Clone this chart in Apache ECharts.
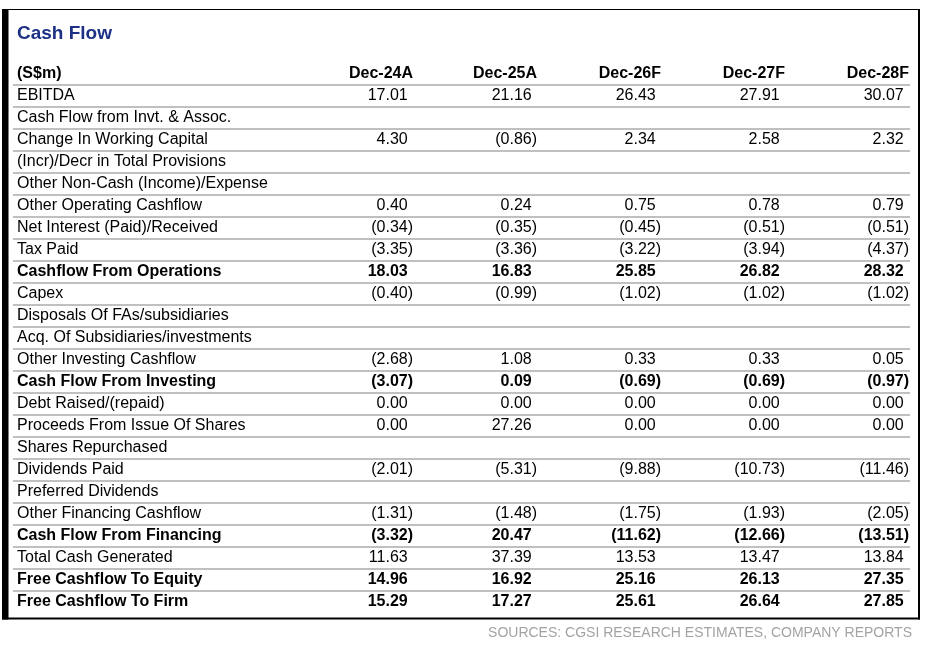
<!DOCTYPE html>
<html><head><meta charset="utf-8">
<script src="https://cdn.jsdelivr.net/npm/echarts@6/dist/echarts.min.js"></script>
<style>html,body{margin:0;padding:0;background:#fff}#c{width:926px;height:647px}</style>
</head><body><div id="c"></div>
<script>
const titleText = 'Cash Flow';
const sourceText = 'SOURCES: CGSI RESEARCH ESTIMATES, COMPANY REPORTS';
const unitLabel = '(S$m)';
const periods = ['Dec-24A', 'Dec-25A', 'Dec-26F', 'Dec-27F', 'Dec-28F'];
const rowLabels = [
  'EBITDA',
  'Cash Flow from Invt. & Assoc.',
  'Change In Working Capital',
  '(Incr)/Decr in Total Provisions',
  'Other Non-Cash (Income)/Expense',
  'Other Operating Cashflow',
  'Net Interest (Paid)/Received',
  'Tax Paid',
  'Cashflow From Operations',
  'Capex',
  'Disposals Of FAs/subsidiaries',
  'Acq. Of Subsidiaries/investments',
  'Other Investing Cashflow',
  'Cash Flow From Investing',
  'Debt Raised/(repaid)',
  'Proceeds From Issue Of Shares',
  'Shares Repurchased',
  'Dividends Paid',
  'Preferred Dividends',
  'Other Financing Cashflow',
  'Cash Flow From Financing',
  'Total Cash Generated',
  'Free Cashflow To Equity',
  'Free Cashflow To Firm'
];
const boldRows = ['Cashflow From Operations', 'Cash Flow From Investing', 'Cash Flow From Financing', 'Free Cashflow To Equity', 'Free Cashflow To Firm'];
const dec24A = [17.01, null, 4.30, null, null, 0.40, -0.34, -3.35, 18.03, -0.40, null, null, -2.68, -3.07, 0.00, 0.00, null, -2.01, null, -1.31, -3.32, 11.63, 14.96, 15.29];
const dec25A = [21.16, null, -0.86, null, null, 0.24, -0.35, -3.36, 16.83, -0.99, null, null, 1.08, 0.09, 0.00, 27.26, null, -5.31, null, -1.48, 20.47, 37.39, 16.92, 17.27];
const dec26F = [26.43, null, 2.34, null, null, 0.75, -0.45, -3.22, 25.85, -1.02, null, null, 0.33, -0.69, 0.00, 0.00, null, -9.88, null, -1.75, -11.62, 13.53, 25.16, 25.61];
const dec27F = [27.91, null, 2.58, null, null, 0.78, -0.51, -3.94, 26.82, -1.02, null, null, 0.33, -0.69, 0.00, 0.00, null, -10.73, null, -1.93, -12.66, 13.47, 26.13, 26.64];
const dec28F = [30.07, null, 2.32, null, null, 0.79, -0.51, -4.37, 28.32, -1.02, null, null, 0.05, -0.97, 0.00, 0.00, null, -11.46, null, -2.05, -13.51, 13.84, 27.35, 27.85];
const columns = [dec24A, dec25A, dec26F, dec27F, dec28F];

const FONT = "'Liberation Sans', Arial, Helvetica, sans-serif";
const FS = 16;
const X_MIN = -2.2258, X_MAX = 5.008, LABEL_X = -2.1935;

function fmt(v) {
  if (v === null || v === undefined) return '';
  return v < 0 ? '(' + Math.abs(v).toFixed(2) + ')' : v.toFixed(2);
}

const yCats = [unitLabel].concat(rowLabels);
const cells = [];
cells.push({ value: [LABEL_X, 0], text: unitLabel, bold: true, align: 'left', paren: false });
periods.forEach((p, j) => cells.push({ value: [j + 1, 0], text: p, bold: true, align: 'right', paren: true }));
rowLabels.forEach((lab, i) => {
  const r = i + 1;
  const bold = boldRows.indexOf(lab) >= 0;
  cells.push({ value: [LABEL_X, r], text: lab, bold: bold, align: 'left', paren: false });
  columns.forEach((col, j) => {
    const t = fmt(col[i]);
    if (t) cells.push({ value: [j + 1, r], text: t, bold: bold, align: 'right', paren: t.charAt(t.length - 1) === ')' });
  });
});
const separators = [];
for (let k = 0; k < yCats.length - 1; k++) separators.push([0, k]);

const chart = echarts.init(document.getElementById('c'), null, { renderer: 'canvas' });
chart.setOption({
  animation: false,
  backgroundColor: '#ffffff',
  title: [
    { text: titleText, left: 17, top: 24, padding: 0, textStyle: { fontFamily: FONT, fontSize: 19, fontWeight: 'bold', color: '#1c3185' } },
    { text: sourceText, right: 14, top: 626, padding: 0, textStyle: { fontFamily: FONT, fontSize: 14, fontWeight: 'normal', color: '#a3a3a3' } }
  ],
  grid: { left: 13, right: 16, top: 62, height: 550 },
  xAxis: { type: 'value', min: X_MIN, max: X_MAX, show: false },
  yAxis: { type: 'category', data: yCats, inverse: true, show: false },
  graphic: [
    { type: 'rect', silent: true, shape: { x: 2, y: 9, width: 6.5, height: 610.5 }, style: { fill: '#000' } },
    { type: 'line', silent: true, shape: { x1: 2, y1: 9.5, x2: 920, y2: 9.5 }, style: { stroke: '#000', lineWidth: 1 } },
    { type: 'line', silent: true, shape: { x1: 919, y1: 9, x2: 919, y2: 619.5 }, style: { stroke: '#000', lineWidth: 2 } },
    { type: 'line', silent: true, shape: { x1: 2, y1: 618.5, x2: 920, y2: 618.5 }, style: { stroke: '#000', lineWidth: 2 } }
  ],
  series: [
    {
      type: 'custom', name: 'separators', silent: true, clip: false,
      data: separators,
      renderItem: function (params, api) {
        const k = api.value(1);
        const half = api.size([0, 1])[1] / 2;
        const y = api.coord([0, k])[1] + half + 1;
        const x1 = api.coord([X_MIN, k])[0];
        const x2 = api.coord([X_MAX, k])[0];
        return { type: 'line', shape: { x1: x1, y1: y, x2: x2, y2: y }, style: { stroke: '#c0c0c0', lineWidth: 2 } };
      }
    },
    {
      type: 'custom', name: 'cells', silent: true, clip: false,
      data: cells.map(c => c.value),
      renderItem: function (params, api) {
        const c = cells[params.dataIndex];
        const pt = api.coord([api.value(0), api.value(1)]);
        let x = pt[0];
        if (c.align === 'right' && !c.paren) x -= FS * 0.333;
        return {
          type: 'text',
          style: {
            x: x, y: pt[1] + 1, text: c.text, align: c.align, verticalAlign: 'middle',
            font: (c.bold ? 'bold ' : '') + FS + 'px ' + FONT, fill: '#000'
          }
        };
      }
    }
  ]
});
</script></body></html>
